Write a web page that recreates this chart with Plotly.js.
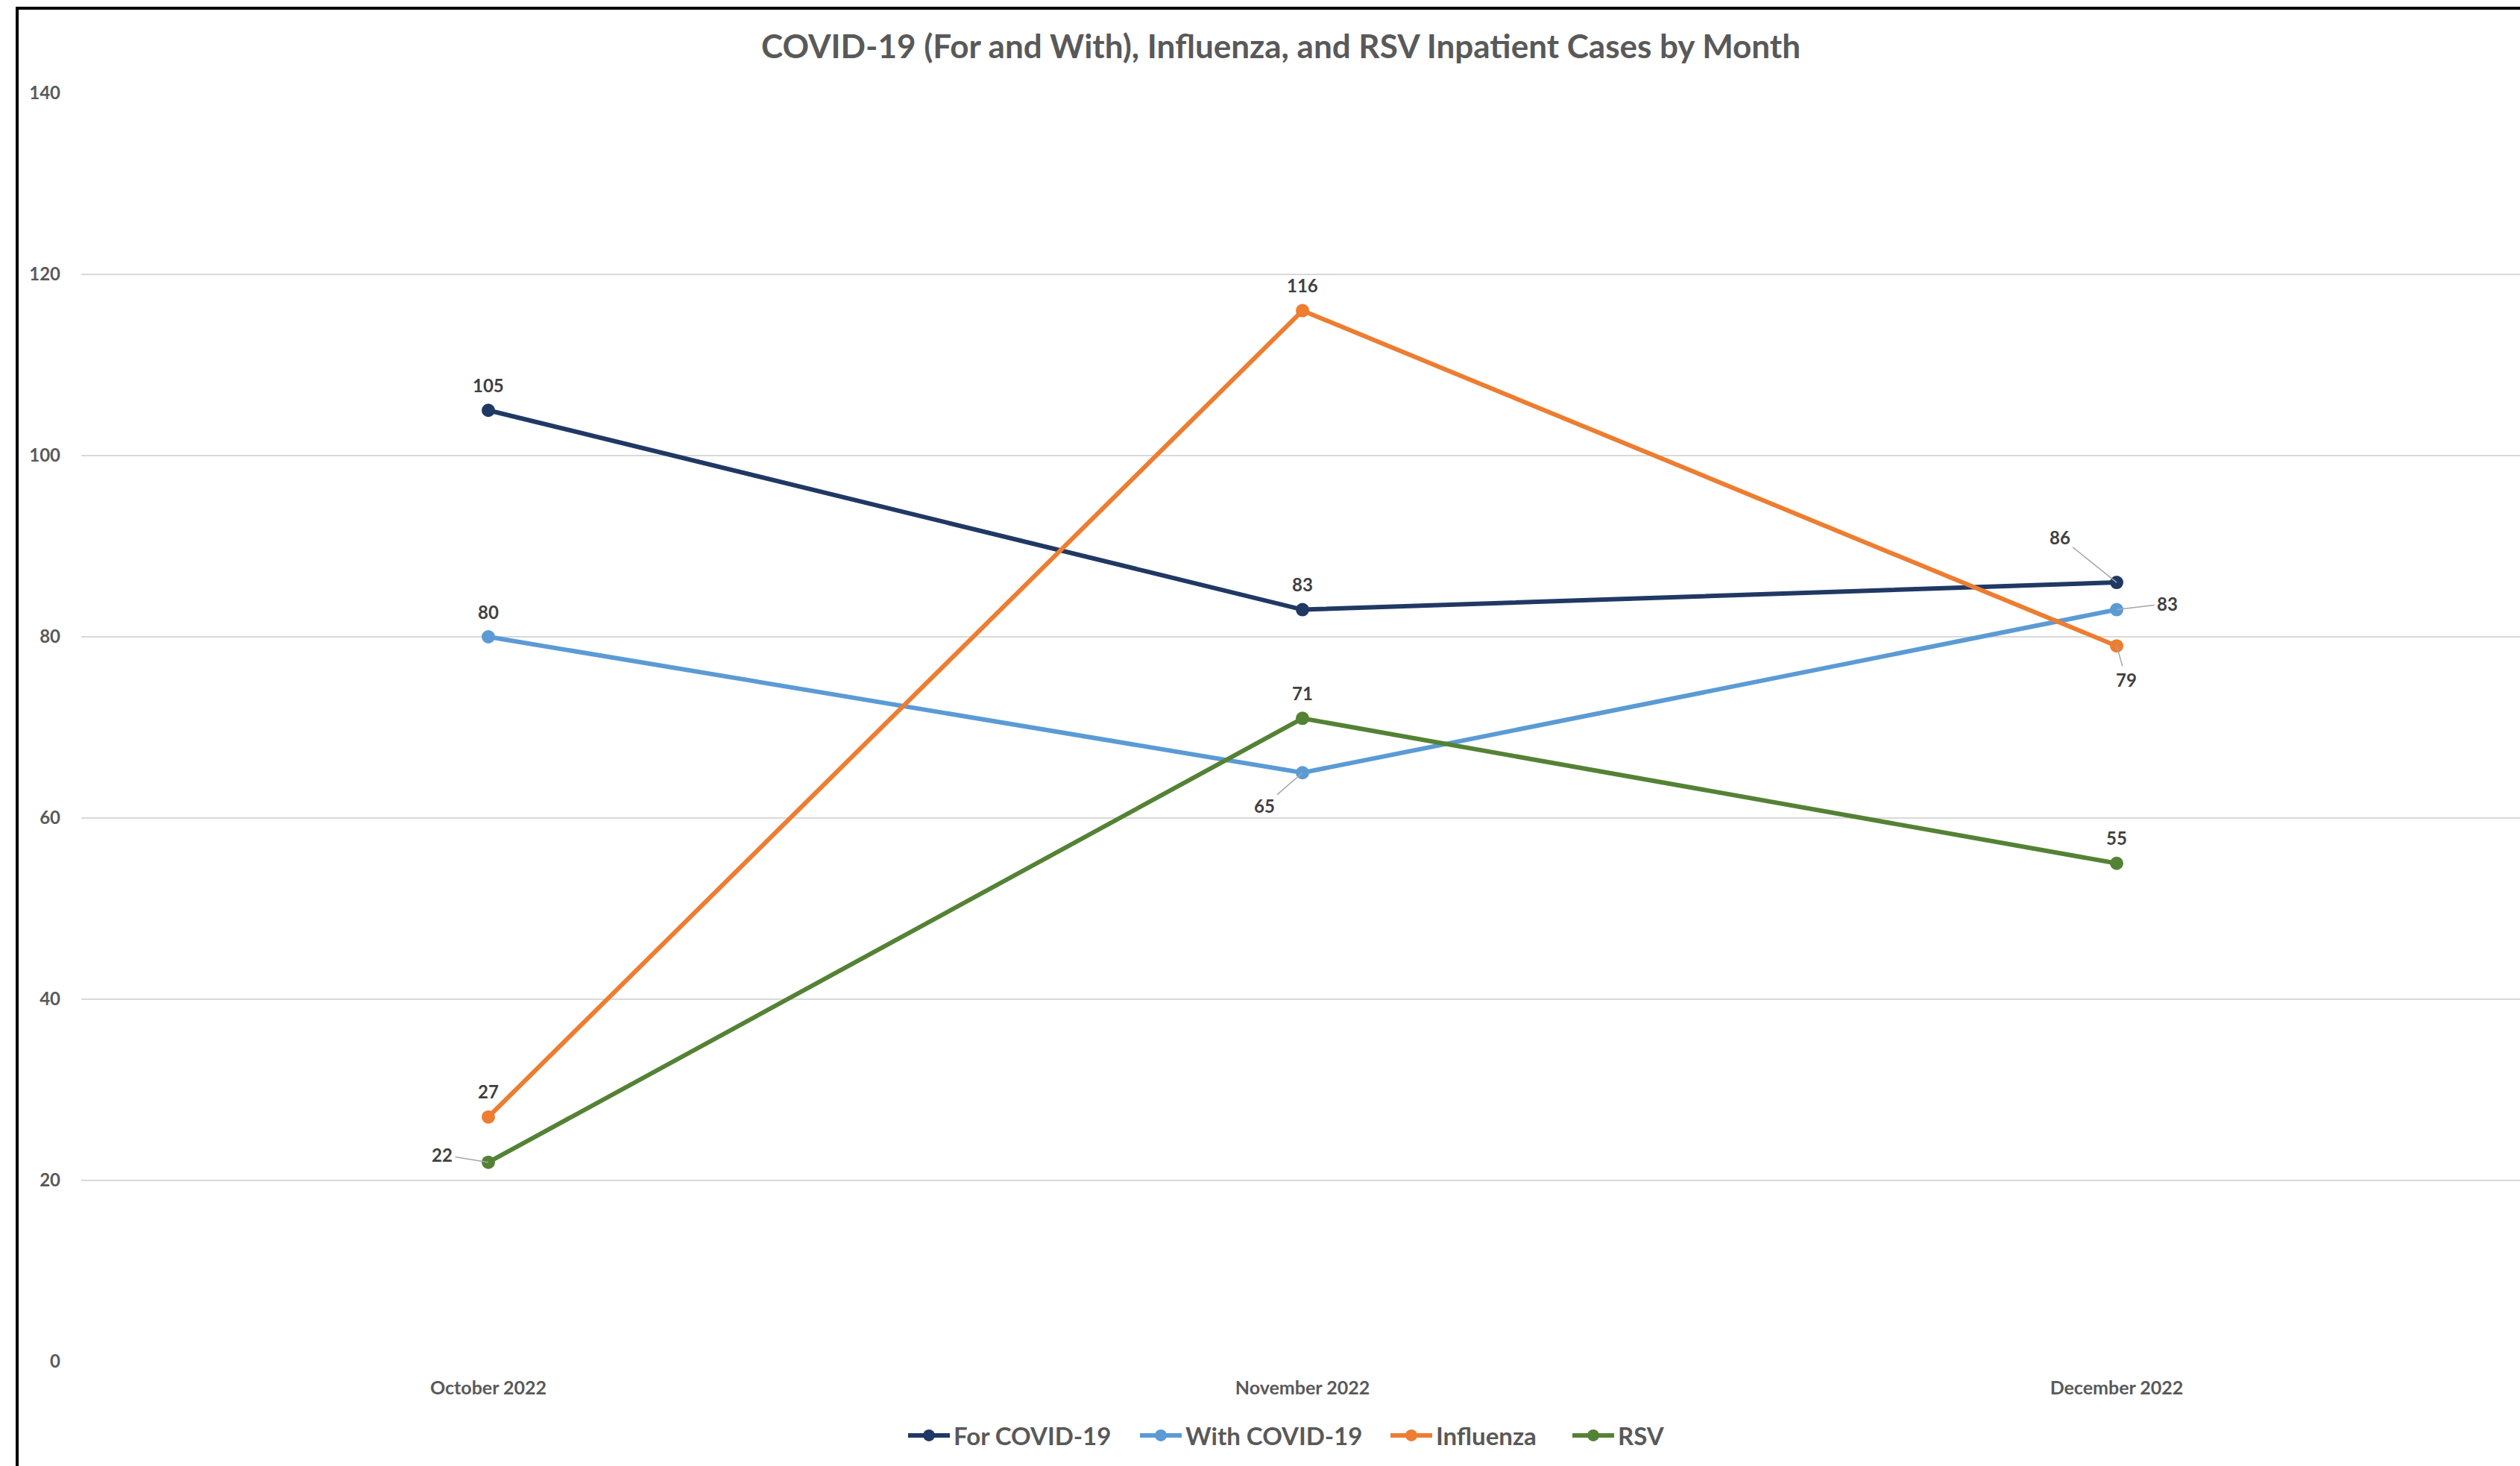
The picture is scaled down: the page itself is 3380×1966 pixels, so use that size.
<!DOCTYPE html>
<html>
<head>
<meta charset="utf-8">
<script src="https://cdn.plot.ly/plotly-3.0.1.min.js"></script>
<style>
  html, body { margin: 0; padding: 0; background: #ffffff; overflow: hidden; }
  #chart { position: absolute; left: 0; top: 0; width: 3380px; height: 1966px; }
  #frame { position: absolute; left: 21px; top: 9px; width: 4000px; height: 3000px;
           border-left: 4px solid #000; border-top: 4px solid #000; pointer-events: none; }
</style>
</head>
<body>
<div id="chart"></div>
<div id="frame"></div>
<script>
// ---- data ----
const months = ["October 2022", "November 2022", "December 2022"];
const seriesNames = ["For COVID-19", "With COVID-19", "Influenza", "RSV"];
const forCovid = [105, 83, 86];
const withCovid = [80, 65, 83];
const influenza = [27, 116, 79];
const rsv = [22, 71, 55];
const yTicks = [0, 20, 40, 60, 80, 100, 120, 140];

// ---- styles ----
const colors = ["#203864", "#5B9BD5", "#ED7D31", "#548235"];
const allValues = [forCovid, withCovid, influenza, rsv];
// label offsets in pixels [ax, ay] per series per month; null = label above point
const labelOffsets = [
  [null, null, [-76, -61]],
  [null, [-51, 44], [68, -8]],
  [null, null, [13, 45]],
  [[-62, -10], null, null]
];
// left pixel position of each legend entry
const legendLeft = [1213, 1524, 1860, 2104];
const FONT = "Lato, 'Open Sans', sans-serif";
const legendIds = ["legend", "legend2", "legend3", "legend4"];

const traces = allValues.map((vals, i) => ({
  type: "scatter",
  mode: "lines+markers",
  name: seriesNames[i],
  x: months,
  y: vals,
  legend: legendIds[i],
  line: { color: colors[i], width: 6 },
  marker: { color: colors[i], size: 18, symbol: "circle" },
  hoverinfo: "x+y+name"
}));

const annotations = [];
allValues.forEach((vals, i) => {
  vals.forEach((v, j) => {
    const off = labelOffsets[i][j];
    const base = {
      x: months[j], y: v, xref: "x", yref: "y",
      text: String(v),
      font: { family: FONT, size: 24, color: "#404040", weight: "bold" }
    };
    if (off) {
      annotations.push(Object.assign(base, {
        showarrow: true, ax: off[0], ay: off[1], axref: "pixel", ayref: "pixel",
        arrowhead: 0, arrowwidth: 1.5, arrowcolor: "#A6A6A6", standoff: 0, startstandoff: 2
      }));
    } else {
      annotations.push(Object.assign(base, {
        showarrow: false, yshift: 34, xanchor: "center", yanchor: "middle"
      }));
    }
  });
});

const plotLeft = 109, plotRight = 3380, catSpacing = 1092;
const layout = {
  width: 3380, height: 1966,
  paper_bgcolor: "#ffffff", plot_bgcolor: "#ffffff",
  margin: { l: plotLeft, r: 0, t: 125, b: 140, pad: 0 },
  title: {
    text: "COVID-19 (For and With), Influenza, and RSV Inpatient Cases by Month",
    font: { family: FONT, size: 44, color: "#595959", weight: "bold" },
    x: 1718 / 3380, xref: "container", xanchor: "center",
    y: 1 - 63 / 1966, yref: "container", yanchor: "middle"
  },
  xaxis: {
    type: "category",
    range: [-0.5, -0.5 + (plotRight - plotLeft) / catSpacing],
    showgrid: false, zeroline: false, showline: false, ticks: "",
    tickfont: { family: FONT, size: 25, color: "#595959", weight: "bold" },
    ticklabelstandoff: 18
  },
  yaxis: {
    range: [0, 140],
    tickvals: yTicks,
    ticktext: yTicks.map(String),
    showgrid: true, gridcolor: "#D9D9D9", gridwidth: 2,
    zeroline: false, showline: false, ticks: "",
    tickfont: { family: FONT, size: 24, color: "#595959", weight: "bold" },
    ticklabelstandoff: 27
  },
  showlegend: true,
  annotations: annotations,
  hovermode: "closest"
};
legendIds.forEach((id, i) => {
  layout[id] = {
    orientation: "h",
    x: legendLeft[i] / 3380, xref: "container", xanchor: "left",
    y: 1 - 1925 / 1966, yref: "container", yanchor: "middle",
    font: { family: FONT, size: 33, color: "#595959", weight: "bold" },
    itemwidth: 56,
    bgcolor: "rgba(0,0,0,0)", borderwidth: 0
  };
});

Plotly.newPlot("chart", traces, layout, { displayModeBar: false, responsive: false });
</script>
</body>
</html>
